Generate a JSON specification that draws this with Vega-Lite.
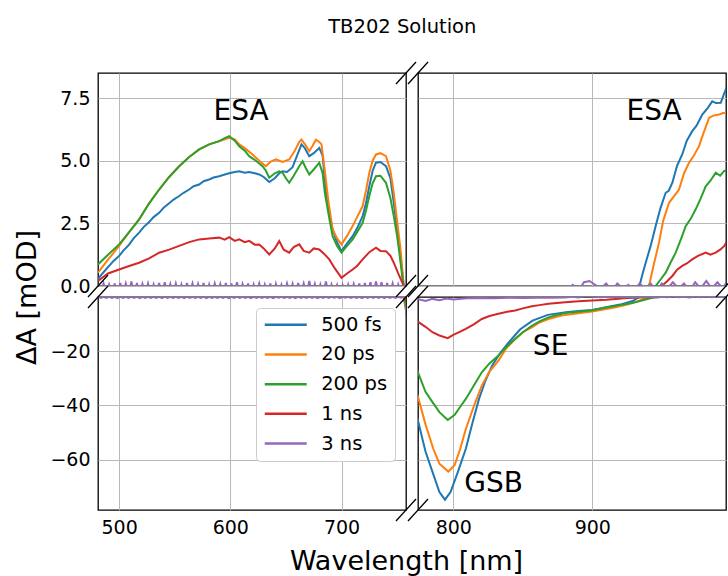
{
"$schema": "https://vega.github.io/schema/vega-lite/v6.json",
"padding": {"left": 13, "top": 17, "right": 1, "bottom": 2},
"title": {"text": "TB202 Solution", "font": "DejaVu Sans", "fontSize": 19.5, "fontWeight": "normal", "color": "black", "offset": 23, "anchor": "middle", "dx": 27},
"datasets": {"d": [
{"s":"500 fs","w":481,"v":0.27},{"s":"500 fs","w":485,"v":0.5},{"s":"500 fs","w":490,"v":0.75},{"s":"500 fs","w":495,"v":1.0},{"s":"500 fs","w":500,"v":1.2},{"s":"500 fs","w":504,"v":1.42},{"s":"500 fs","w":509,"v":1.65},{"s":"500 fs","w":513,"v":1.9},{"s":"500 fs","w":518,"v":2.13},{"s":"500 fs","w":522,"v":2.35},{"s":"500 fs","w":527,"v":2.55},{"s":"500 fs","w":531,"v":2.75},{"s":"500 fs","w":536,"v":2.92},{"s":"500 fs","w":540,"v":3.12},{"s":"500 fs","w":545,"v":3.3},{"s":"500 fs","w":549,"v":3.45},{"s":"500 fs","w":554,"v":3.59},{"s":"500 fs","w":558,"v":3.72},{"s":"500 fs","w":563,"v":3.85},{"s":"500 fs","w":567,"v":3.98},{"s":"500 fs","w":572,"v":4.05},{"s":"500 fs","w":576,"v":4.18},{"s":"500 fs","w":581,"v":4.25},{"s":"500 fs","w":585,"v":4.33},{"s":"500 fs","w":590,"v":4.38},{"s":"500 fs","w":595,"v":4.45},{"s":"500 fs","w":599,"v":4.5},{"s":"500 fs","w":604,"v":4.55},{"s":"500 fs","w":608,"v":4.58},{"s":"500 fs","w":613,"v":4.52},{"s":"500 fs","w":617,"v":4.55},{"s":"500 fs","w":622,"v":4.5},{"s":"500 fs","w":626,"v":4.45},{"s":"500 fs","w":630,"v":4.35},{"s":"500 fs","w":635,"v":4.15},{"s":"500 fs","w":640,"v":4.3},{"s":"500 fs","w":644,"v":4.5},{"s":"500 fs","w":647,"v":4.58},{"s":"500 fs","w":651,"v":4.55},{"s":"500 fs","w":656,"v":4.74},{"s":"500 fs","w":660,"v":5.2},{"s":"500 fs","w":664,"v":5.65},{"s":"500 fs","w":667,"v":5.5},{"s":"500 fs","w":671,"v":5.18},{"s":"500 fs","w":675,"v":5.3},{"s":"500 fs","w":680,"v":5.51},{"s":"500 fs","w":683,"v":5.2},{"s":"500 fs","w":686,"v":3.72},{"s":"500 fs","w":689,"v":2.9},{"s":"500 fs","w":692,"v":2.26},{"s":"500 fs","w":696,"v":1.75},{"s":"500 fs","w":700,"v":1.39},{"s":"500 fs","w":705,"v":1.7},{"s":"500 fs","w":710,"v":1.99},{"s":"500 fs","w":714,"v":2.3},{"s":"500 fs","w":719,"v":2.79},{"s":"500 fs","w":722,"v":3.3},{"s":"500 fs","w":725,"v":3.98},{"s":"500 fs","w":728,"v":4.6},{"s":"500 fs","w":731,"v":4.92},{"s":"500 fs","w":735,"v":4.95},{"s":"500 fs","w":740,"v":4.78},{"s":"500 fs","w":744,"v":4.3},{"s":"500 fs","w":747,"v":3.32},{"s":"500 fs","w":750,"v":2.3},{"s":"500 fs","w":753,"v":1.2},{"s":"500 fs","w":756,"v":0},{"s":"500 fs","w":758,"v":-5},{"s":"500 fs","w":762,"v":-15},{"s":"500 fs","w":766,"v":-26},{"s":"500 fs","w":770,"v":-36},{"s":"500 fs","w":775,"v":-46.5},{"s":"500 fs","w":780,"v":-57},{"s":"500 fs","w":786,"v":-66},{"s":"500 fs","w":790,"v":-72},{"s":"500 fs","w":794,"v":-74.8},{"s":"500 fs","w":798,"v":-72},{"s":"500 fs","w":803,"v":-65},{"s":"500 fs","w":809,"v":-56},{"s":"500 fs","w":814,"v":-46},{"s":"500 fs","w":818.5,"v":-37.6},{"s":"500 fs","w":823,"v":-31},{"s":"500 fs","w":828,"v":-25.3},{"s":"500 fs","w":834,"v":-20.5},{"s":"500 fs","w":840,"v":-16.7},{"s":"500 fs","w":848,"v":-12},{"s":"500 fs","w":857,"v":-8.7},{"s":"500 fs","w":868,"v":-6.6},{"s":"500 fs","w":881,"v":-5.6},{"s":"500 fs","w":890,"v":-5.2},{"s":"500 fs","w":900,"v":-4.8},{"s":"500 fs","w":910,"v":-3.8},{"s":"500 fs","w":920,"v":-2.8},{"s":"500 fs","w":929,"v":-1.5},{"s":"500 fs","w":933,"v":-0.2},{"s":"500 fs","w":936,"v":0.45},{"s":"500 fs","w":938,"v":0.85},{"s":"500 fs","w":942,"v":1.6},{"s":"500 fs","w":945.6,"v":2.39},{"s":"500 fs","w":949,"v":3.1},{"s":"500 fs","w":952.8,"v":3.72},{"s":"500 fs","w":955,"v":3.8},{"s":"500 fs","w":957.6,"v":4.12},{"s":"500 fs","w":961,"v":4.8},{"s":"500 fs","w":964.7,"v":5.25},{"s":"500 fs","w":968,"v":5.8},{"s":"500 fs","w":971.9,"v":6.18},{"s":"500 fs","w":975,"v":6.4},{"s":"500 fs","w":979.1,"v":6.84},{"s":"500 fs","w":983,"v":7.1},{"s":"500 fs","w":986.3,"v":7.37},{"s":"500 fs","w":989,"v":7.3},{"s":"500 fs","w":992.4,"v":7.31},{"s":"500 fs","w":995,"v":7.7},{"s":"500 fs","w":997,"v":7.97},{"s":"500 fs","w":1000,"v":8.3},
{"s":"20 ps","w":481,"v":0.53},{"s":"20 ps","w":490,"v":1.05},{"s":"20 ps","w":500,"v":1.6},{"s":"20 ps","w":509,"v":2.15},{"s":"20 ps","w":518,"v":2.66},{"s":"20 ps","w":527,"v":3.3},{"s":"20 ps","w":536,"v":3.85},{"s":"20 ps","w":545,"v":4.35},{"s":"20 ps","w":554,"v":4.78},{"s":"20 ps","w":563,"v":5.15},{"s":"20 ps","w":572,"v":5.45},{"s":"20 ps","w":581,"v":5.65},{"s":"20 ps","w":590,"v":5.78},{"s":"20 ps","w":595,"v":5.85},{"s":"20 ps","w":599,"v":5.91},{"s":"20 ps","w":604,"v":5.85},{"s":"20 ps","w":608,"v":5.65},{"s":"20 ps","w":613,"v":5.5},{"s":"20 ps","w":620,"v":5.25},{"s":"20 ps","w":626,"v":5.0},{"s":"20 ps","w":632,"v":4.78},{"s":"20 ps","w":636,"v":4.95},{"s":"20 ps","w":641,"v":5.05},{"s":"20 ps","w":647,"v":4.95},{"s":"20 ps","w":653,"v":5.05},{"s":"20 ps","w":658,"v":5.4},{"s":"20 ps","w":662,"v":5.75},{"s":"20 ps","w":664,"v":5.84},{"s":"20 ps","w":668,"v":5.6},{"s":"20 ps","w":671,"v":5.38},{"s":"20 ps","w":674,"v":5.6},{"s":"20 ps","w":677,"v":5.84},{"s":"20 ps","w":680,"v":5.75},{"s":"20 ps","w":682,"v":5.65},{"s":"20 ps","w":685,"v":4.6},{"s":"20 ps","w":688,"v":3.45},{"s":"20 ps","w":692,"v":2.26},{"s":"20 ps","w":696,"v":1.9},{"s":"20 ps","w":700,"v":1.66},{"s":"20 ps","w":705,"v":2.0},{"s":"20 ps","w":710,"v":2.39},{"s":"20 ps","w":714,"v":2.75},{"s":"20 ps","w":719,"v":3.19},{"s":"20 ps","w":722,"v":3.8},{"s":"20 ps","w":725,"v":4.52},{"s":"20 ps","w":728,"v":5.0},{"s":"20 ps","w":731,"v":5.25},{"s":"20 ps","w":735,"v":5.3},{"s":"20 ps","w":740,"v":5.18},{"s":"20 ps","w":744,"v":4.6},{"s":"20 ps","w":747,"v":3.72},{"s":"20 ps","w":750,"v":2.6},{"s":"20 ps","w":753,"v":1.5},{"s":"20 ps","w":756,"v":0},{"s":"20 ps","w":758,"v":-4},{"s":"20 ps","w":762,"v":-12},{"s":"20 ps","w":766,"v":-20},{"s":"20 ps","w":770,"v":-29},{"s":"20 ps","w":775,"v":-37.6},{"s":"20 ps","w":780,"v":-47},{"s":"20 ps","w":785.6,"v":-56},{"s":"20 ps","w":790,"v":-61.5},{"s":"20 ps","w":796.4,"v":-64.4},{"s":"20 ps","w":801,"v":-62},{"s":"20 ps","w":805,"v":-56},{"s":"20 ps","w":809,"v":-48.7},{"s":"20 ps","w":815,"v":-40},{"s":"20 ps","w":820.5,"v":-32.7},{"s":"20 ps","w":826,"v":-27.5},{"s":"20 ps","w":832.5,"v":-23.5},{"s":"20 ps","w":838,"v":-19},{"s":"20 ps","w":844.5,"v":-15.5},{"s":"20 ps","w":850,"v":-13},{"s":"20 ps","w":856.5,"v":-11.2},{"s":"20 ps","w":862,"v":-9.4},{"s":"20 ps","w":868.5,"v":-8.1},{"s":"20 ps","w":875,"v":-7.2},{"s":"20 ps","w":880.5,"v":-6.6},{"s":"20 ps","w":890,"v":-6},{"s":"20 ps","w":900,"v":-5.4},{"s":"20 ps","w":908,"v":-4.6},{"s":"20 ps","w":916.8,"v":-3.8},{"s":"20 ps","w":925,"v":-2.8},{"s":"20 ps","w":932,"v":-1.7},{"s":"20 ps","w":937,"v":-0.7},{"s":"20 ps","w":940.8,"v":0},{"s":"20 ps","w":944,"v":0.8},{"s":"20 ps","w":948,"v":1.73},{"s":"20 ps","w":951,"v":2.6},{"s":"20 ps","w":955.2,"v":3.32},{"s":"20 ps","w":959,"v":3.6},{"s":"20 ps","w":962.4,"v":3.85},{"s":"20 ps","w":966,"v":4.5},{"s":"20 ps","w":969.6,"v":4.92},{"s":"20 ps","w":973,"v":5.2},{"s":"20 ps","w":976.8,"v":5.58},{"s":"20 ps","w":980,"v":6.1},{"s":"20 ps","w":984,"v":6.71},{"s":"20 ps","w":987,"v":6.8},{"s":"20 ps","w":991.2,"v":6.84},{"s":"20 ps","w":994,"v":6.9},{"s":"20 ps","w":997,"v":6.91},{"s":"20 ps","w":1000,"v":6.95},
{"s":"200 ps","w":481,"v":0.86},{"s":"200 ps","w":490,"v":1.25},{"s":"200 ps","w":500,"v":1.66},{"s":"200 ps","w":509,"v":2.15},{"s":"200 ps","w":518,"v":2.66},{"s":"200 ps","w":527,"v":3.3},{"s":"200 ps","w":536,"v":3.85},{"s":"200 ps","w":545,"v":4.35},{"s":"200 ps","w":554,"v":4.78},{"s":"200 ps","w":563,"v":5.15},{"s":"200 ps","w":572,"v":5.45},{"s":"200 ps","w":581,"v":5.65},{"s":"200 ps","w":590,"v":5.78},{"s":"200 ps","w":595,"v":5.9},{"s":"200 ps","w":599,"v":5.98},{"s":"200 ps","w":604,"v":5.8},{"s":"200 ps","w":608,"v":5.58},{"s":"200 ps","w":613,"v":5.4},{"s":"200 ps","w":617,"v":5.18},{"s":"200 ps","w":623,"v":5.0},{"s":"200 ps","w":629,"v":4.78},{"s":"200 ps","w":632,"v":4.6},{"s":"200 ps","w":635,"v":4.32},{"s":"200 ps","w":640,"v":4.5},{"s":"200 ps","w":644,"v":4.58},{"s":"200 ps","w":647,"v":4.52},{"s":"200 ps","w":650,"v":4.3},{"s":"200 ps","w":653,"v":4.12},{"s":"200 ps","w":657,"v":4.4},{"s":"200 ps","w":662,"v":4.78},{"s":"200 ps","w":665,"v":4.98},{"s":"200 ps","w":668,"v":4.7},{"s":"200 ps","w":671,"v":4.45},{"s":"200 ps","w":675,"v":4.65},{"s":"200 ps","w":680,"v":4.92},{"s":"200 ps","w":683,"v":4.5},{"s":"200 ps","w":685,"v":3.72},{"s":"200 ps","w":689,"v":2.7},{"s":"200 ps","w":692,"v":1.99},{"s":"200 ps","w":696,"v":1.6},{"s":"200 ps","w":700,"v":1.33},{"s":"200 ps","w":705,"v":1.6},{"s":"200 ps","w":710,"v":1.86},{"s":"200 ps","w":714,"v":2.15},{"s":"200 ps","w":719,"v":2.52},{"s":"200 ps","w":722,"v":3.0},{"s":"200 ps","w":725,"v":3.59},{"s":"200 ps","w":728,"v":4.1},{"s":"200 ps","w":731,"v":4.38},{"s":"200 ps","w":735,"v":4.4},{"s":"200 ps","w":740,"v":4.12},{"s":"200 ps","w":744,"v":3.5},{"s":"200 ps","w":747,"v":2.79},{"s":"200 ps","w":750,"v":2.0},{"s":"200 ps","w":752,"v":1.33},{"s":"200 ps","w":754,"v":0.6},{"s":"200 ps","w":756,"v":-0.1},{"s":"200 ps","w":758,"v":-3},{"s":"200 ps","w":762,"v":-9},{"s":"200 ps","w":766,"v":-15},{"s":"200 ps","w":770,"v":-21},{"s":"200 ps","w":775,"v":-28.4},{"s":"200 ps","w":780,"v":-35},{"s":"200 ps","w":785,"v":-38.8},{"s":"200 ps","w":790,"v":-42.5},{"s":"200 ps","w":796,"v":-45.4},{"s":"200 ps","w":801,"v":-43.5},{"s":"200 ps","w":805,"v":-40.5},{"s":"200 ps","w":809,"v":-37.6},{"s":"200 ps","w":815,"v":-32.5},{"s":"200 ps","w":820.5,"v":-27.8},{"s":"200 ps","w":826,"v":-24.5},{"s":"200 ps","w":832.5,"v":-21.6},{"s":"200 ps","w":838,"v":-18.5},{"s":"200 ps","w":844.5,"v":-15.5},{"s":"200 ps","w":850,"v":-13},{"s":"200 ps","w":856.5,"v":-10.6},{"s":"200 ps","w":862,"v":-9},{"s":"200 ps","w":868.5,"v":-7.5},{"s":"200 ps","w":875,"v":-6.6},{"s":"200 ps","w":880.5,"v":-5.9},{"s":"200 ps","w":890,"v":-5.4},{"s":"200 ps","w":900,"v":-4.9},{"s":"200 ps","w":910,"v":-3.9},{"s":"200 ps","w":920,"v":-3.0},{"s":"200 ps","w":928.6,"v":-2.2},{"s":"200 ps","w":935,"v":-1.4},{"s":"200 ps","w":941,"v":-0.6},{"s":"200 ps","w":945.6,"v":0},{"s":"200 ps","w":949,"v":0.25},{"s":"200 ps","w":952.8,"v":0.53},{"s":"200 ps","w":956,"v":0.9},{"s":"200 ps","w":960,"v":1.33},{"s":"200 ps","w":964,"v":1.9},{"s":"200 ps","w":967.2,"v":2.39},{"s":"200 ps","w":971,"v":2.7},{"s":"200 ps","w":974.4,"v":3.06},{"s":"200 ps","w":978,"v":3.5},{"s":"200 ps","w":981.6,"v":3.98},{"s":"200 ps","w":985,"v":4.2},{"s":"200 ps","w":988.8,"v":4.52},{"s":"200 ps","w":992,"v":4.4},{"s":"200 ps","w":995,"v":4.6},{"s":"200 ps","w":997,"v":4.58},{"s":"200 ps","w":1000,"v":4.7},
{"s":"1 ns","w":481,"v":0.2},{"s":"1 ns","w":490,"v":0.5},{"s":"1 ns","w":500,"v":0.66},{"s":"1 ns","w":509,"v":0.8},{"s":"1 ns","w":518,"v":0.93},{"s":"1 ns","w":527,"v":1.1},{"s":"1 ns","w":536,"v":1.33},{"s":"1 ns","w":545,"v":1.45},{"s":"1 ns","w":554,"v":1.6},{"s":"1 ns","w":563,"v":1.75},{"s":"1 ns","w":572,"v":1.86},{"s":"1 ns","w":581,"v":1.9},{"s":"1 ns","w":590,"v":1.93},{"s":"1 ns","w":595,"v":1.85},{"s":"1 ns","w":599,"v":1.95},{"s":"1 ns","w":604,"v":1.8},{"s":"1 ns","w":608,"v":1.86},{"s":"1 ns","w":613,"v":1.75},{"s":"1 ns","w":617,"v":1.8},{"s":"1 ns","w":622,"v":1.65},{"s":"1 ns","w":626,"v":1.66},{"s":"1 ns","w":630,"v":1.5},{"s":"1 ns","w":635,"v":1.26},{"s":"1 ns","w":640,"v":1.5},{"s":"1 ns","w":644,"v":1.79},{"s":"1 ns","w":648,"v":1.45},{"s":"1 ns","w":653,"v":1.33},{"s":"1 ns","w":657,"v":1.55},{"s":"1 ns","w":662,"v":1.66},{"s":"1 ns","w":666,"v":1.4},{"s":"1 ns","w":671,"v":1.33},{"s":"1 ns","w":675,"v":1.5},{"s":"1 ns","w":680,"v":1.46},{"s":"1 ns","w":684,"v":1.3},{"s":"1 ns","w":689,"v":1.06},{"s":"1 ns","w":694,"v":0.7},{"s":"1 ns","w":700,"v":0.33},{"s":"1 ns","w":705,"v":0.5},{"s":"1 ns","w":710,"v":0.66},{"s":"1 ns","w":714,"v":0.8},{"s":"1 ns","w":719,"v":1.06},{"s":"1 ns","w":725,"v":1.35},{"s":"1 ns","w":731,"v":1.53},{"s":"1 ns","w":735,"v":1.4},{"s":"1 ns","w":740,"v":1.39},{"s":"1 ns","w":744,"v":1.2},{"s":"1 ns","w":747,"v":0.93},{"s":"1 ns","w":751,"v":0.5},{"s":"1 ns","w":756,"v":0},{"s":"1 ns","w":758,"v":-1.5},{"s":"1 ns","w":762,"v":-4},{"s":"1 ns","w":768,"v":-7},{"s":"1 ns","w":775,"v":-9.3},{"s":"1 ns","w":780,"v":-11},{"s":"1 ns","w":785,"v":-13},{"s":"1 ns","w":790,"v":-14.2},{"s":"1 ns","w":796,"v":-15.2},{"s":"1 ns","w":800,"v":-14},{"s":"1 ns","w":805,"v":-12.8},{"s":"1 ns","w":809,"v":-11.8},{"s":"1 ns","w":815,"v":-10},{"s":"1 ns","w":820.5,"v":-8.1},{"s":"1 ns","w":826,"v":-7},{"s":"1 ns","w":832.5,"v":-6.2},{"s":"1 ns","w":838,"v":-5.5},{"s":"1 ns","w":844.5,"v":-5},{"s":"1 ns","w":850,"v":-4.2},{"s":"1 ns","w":856.5,"v":-3.4},{"s":"1 ns","w":862,"v":-3},{"s":"1 ns","w":868.5,"v":-2.5},{"s":"1 ns","w":880.5,"v":-1.9},{"s":"1 ns","w":890,"v":-1.6},{"s":"1 ns","w":900,"v":-1.3},{"s":"1 ns","w":910,"v":-1.0},{"s":"1 ns","w":916.8,"v":-0.7},{"s":"1 ns","w":925,"v":-0.4},{"s":"1 ns","w":935,"v":-0.2},{"s":"1 ns","w":945,"v":-0.1},{"s":"1 ns","w":950,"v":0},{"s":"1 ns","w":954,"v":0.2},{"s":"1 ns","w":957.6,"v":0.4},{"s":"1 ns","w":961,"v":0.65},{"s":"1 ns","w":964.7,"v":0.8},{"s":"1 ns","w":968,"v":0.9},{"s":"1 ns","w":971.9,"v":1.06},{"s":"1 ns","w":976,"v":1.2},{"s":"1 ns","w":981.6,"v":1.33},{"s":"1 ns","w":985,"v":1.25},{"s":"1 ns","w":988.8,"v":1.33},{"s":"1 ns","w":992,"v":1.45},{"s":"1 ns","w":995,"v":1.6},{"s":"1 ns","w":997,"v":1.79},{"s":"1 ns","w":1000,"v":1.85},
{"s":"3 ns","w":481,"v":0.08},{"s":"3 ns","w":483.5,"v":-0.3},{"s":"3 ns","w":486,"v":0.1},{"s":"3 ns","w":488.5,"v":-0.35},{"s":"3 ns","w":491,"v":0.06},{"s":"3 ns","w":493.5,"v":-0.3},{"s":"3 ns","w":496,"v":0.1},{"s":"3 ns","w":498.5,"v":-0.4},{"s":"3 ns","w":501,"v":0.12},{"s":"3 ns","w":503.5,"v":-0.3},{"s":"3 ns","w":506,"v":0.1},{"s":"3 ns","w":508.5,"v":-0.35},{"s":"3 ns","w":511,"v":0.18},{"s":"3 ns","w":513.5,"v":-0.3},{"s":"3 ns","w":516,"v":0.12},{"s":"3 ns","w":518.5,"v":-0.4},{"s":"3 ns","w":521,"v":0.08},{"s":"3 ns","w":523.5,"v":-0.3},{"s":"3 ns","w":526,"v":0.1},{"s":"3 ns","w":528.5,"v":-0.35},{"s":"3 ns","w":531,"v":0.06},{"s":"3 ns","w":533.5,"v":-0.3},{"s":"3 ns","w":536,"v":0.12},{"s":"3 ns","w":538.5,"v":-0.4},{"s":"3 ns","w":541,"v":0.15},{"s":"3 ns","w":543.5,"v":-0.3},{"s":"3 ns","w":546,"v":0.08},{"s":"3 ns","w":548.5,"v":-0.35},{"s":"3 ns","w":551,"v":0.1},{"s":"3 ns","w":553.5,"v":-0.3},{"s":"3 ns","w":556,"v":0.06},{"s":"3 ns","w":558.5,"v":-0.4},{"s":"3 ns","w":561,"v":0.12},{"s":"3 ns","w":563.5,"v":-0.3},{"s":"3 ns","w":566,"v":0.1},{"s":"3 ns","w":568.5,"v":-0.35},{"s":"3 ns","w":571,"v":0.08},{"s":"3 ns","w":573.5,"v":-0.3},{"s":"3 ns","w":576,"v":0.12},{"s":"3 ns","w":578.5,"v":-0.4},{"s":"3 ns","w":581,"v":0.06},{"s":"3 ns","w":583.5,"v":-0.3},{"s":"3 ns","w":586,"v":0.1},{"s":"3 ns","w":588.5,"v":-0.35},{"s":"3 ns","w":591,"v":0.08},{"s":"3 ns","w":593.5,"v":-0.3},{"s":"3 ns","w":596,"v":0.12},{"s":"3 ns","w":598.5,"v":-0.4},{"s":"3 ns","w":601,"v":0.1},{"s":"3 ns","w":603.5,"v":-0.3},{"s":"3 ns","w":606,"v":0.15},{"s":"3 ns","w":608.5,"v":-0.35},{"s":"3 ns","w":611,"v":0.08},{"s":"3 ns","w":613.5,"v":-0.3},{"s":"3 ns","w":616,"v":0.1},{"s":"3 ns","w":618.5,"v":-0.4},{"s":"3 ns","w":621,"v":0.06},{"s":"3 ns","w":623.5,"v":-0.3},{"s":"3 ns","w":626,"v":0.1},{"s":"3 ns","w":628.5,"v":-0.35},{"s":"3 ns","w":631,"v":0.06},{"s":"3 ns","w":633.5,"v":-0.3},{"s":"3 ns","w":636,"v":0.1},{"s":"3 ns","w":638.5,"v":-0.4},{"s":"3 ns","w":641,"v":0.08},{"s":"3 ns","w":643.5,"v":-0.3},{"s":"3 ns","w":646,"v":0.05},{"s":"3 ns","w":648.5,"v":-0.35},{"s":"3 ns","w":651,"v":0.1},{"s":"3 ns","w":653.5,"v":-0.3},{"s":"3 ns","w":656,"v":0.08},{"s":"3 ns","w":658.5,"v":-0.4},{"s":"3 ns","w":661,"v":0.12},{"s":"3 ns","w":663.5,"v":-0.3},{"s":"3 ns","w":666,"v":0.1},{"s":"3 ns","w":668.5,"v":-0.35},{"s":"3 ns","w":671,"v":0.2},{"s":"3 ns","w":673.5,"v":-0.3},{"s":"3 ns","w":676,"v":0.08},{"s":"3 ns","w":678.5,"v":-0.4},{"s":"3 ns","w":681,"v":0.06},{"s":"3 ns","w":683.5,"v":-0.3},{"s":"3 ns","w":686,"v":0.18},{"s":"3 ns","w":688.5,"v":-0.35},{"s":"3 ns","w":691,"v":0.06},{"s":"3 ns","w":693.5,"v":-0.3},{"s":"3 ns","w":696,"v":0.04},{"s":"3 ns","w":698.5,"v":-0.4},{"s":"3 ns","w":701,"v":0.04},{"s":"3 ns","w":703.5,"v":-0.3},{"s":"3 ns","w":706,"v":0.06},{"s":"3 ns","w":708.5,"v":-0.35},{"s":"3 ns","w":711,"v":0.08},{"s":"3 ns","w":713.5,"v":-0.3},{"s":"3 ns","w":716,"v":0.1},{"s":"3 ns","w":718.5,"v":-0.4},{"s":"3 ns","w":721,"v":0.12},{"s":"3 ns","w":723.5,"v":-0.3},{"s":"3 ns","w":726,"v":0.15},{"s":"3 ns","w":728.5,"v":-0.35},{"s":"3 ns","w":731,"v":0.18},{"s":"3 ns","w":733.5,"v":-0.3},{"s":"3 ns","w":736,"v":0.15},{"s":"3 ns","w":738.5,"v":-0.4},{"s":"3 ns","w":741,"v":0.12},{"s":"3 ns","w":743.5,"v":-0.3},{"s":"3 ns","w":746,"v":0.1},{"s":"3 ns","w":748.5,"v":-0.35},{"s":"3 ns","w":751,"v":0.06},{"s":"3 ns","w":753.5,"v":-0.3},{"s":"3 ns","w":756,"v":0.04},{"s":"3 ns","w":758,"v":-0.5},{"s":"3 ns","w":762,"v":-0.8},{"s":"3 ns","w":768,"v":-1.0},{"s":"3 ns","w":775,"v":-0.8},{"s":"3 ns","w":780,"v":-1.5},{"s":"3 ns","w":785,"v":-0.7},{"s":"3 ns","w":790,"v":-1.2},{"s":"3 ns","w":795,"v":-0.6},{"s":"3 ns","w":800,"v":-0.9},{"s":"3 ns","w":810,"v":-0.5},{"s":"3 ns","w":820,"v":-0.4},{"s":"3 ns","w":830,"v":-0.5},{"s":"3 ns","w":840,"v":-0.3},{"s":"3 ns","w":850,"v":-0.4},{"s":"3 ns","w":860,"v":-0.3},{"s":"3 ns","w":870,"v":-0.3},{"s":"3 ns","w":880,"v":-0.2},{"s":"3 ns","w":886,"v":0.05},{"s":"3 ns","w":890,"v":-0.2},{"s":"3 ns","w":894,"v":0.15},{"s":"3 ns","w":898,"v":0.2},{"s":"3 ns","w":902,"v":0.05},{"s":"3 ns","w":906,"v":-0.1},{"s":"3 ns","w":910,"v":0.1},{"s":"3 ns","w":914,"v":-0.2},{"s":"3 ns","w":918,"v":0.1},{"s":"3 ns","w":922,"v":-0.1},{"s":"3 ns","w":926,"v":0.05},{"s":"3 ns","w":930,"v":-0.2},{"s":"3 ns","w":934,"v":0.1},{"s":"3 ns","w":938,"v":-0.1},{"s":"3 ns","w":942,"v":0.1},{"s":"3 ns","w":946,"v":-0.2},{"s":"3 ns","w":950,"v":0.1},{"s":"3 ns","w":954,"v":-0.1},{"s":"3 ns","w":958,"v":0.15},{"s":"3 ns","w":962,"v":-0.1},{"s":"3 ns","w":966,"v":0.1},{"s":"3 ns","w":970,"v":-0.2},{"s":"3 ns","w":974,"v":0.15},{"s":"3 ns","w":978,"v":-0.1},{"s":"3 ns","w":982,"v":0.2},{"s":"3 ns","w":986,"v":-0.1},{"s":"3 ns","w":990,"v":0.15},{"s":"3 ns","w":994,"v":-0.1},{"s":"3 ns","w":997,"v":0.2},{"s":"3 ns","w":1000,"v":0.1}
]},
"columns": 2,
"spacing": {"row": 11, "column": 12},
"bounds": "flush",
"resolve": {"scale": {"x": "independent", "y": "independent", "color": "independent"}, "legend": {"color": "independent"}},
"concat": [
{"width": 308, "height": 213, "layer": [
 {"data": {"name": "d"}, "mark": {"type": "line", "clip": true, "strokeWidth": 2},
  "encoding": {
   "x": {"field": "w", "type": "quantitative", "scale": {"domain": [481, 758], "nice": false, "zero": false}, "axis": {"values": [500, 600, 700], "labels": false, "title": null}},
   "y": {"field": "v", "type": "quantitative", "scale": {"domain": [0, 8.5], "nice": false, "zero": false}, "axis": {"values": [0, 2.5, 5, 7.5], "format": ".1f", "title": null}},
   "color": {"field": "s", "type": "nominal", "scale": {"domain": ["500 fs", "20 ps", "200 ps", "1 ns", "3 ns"], "range": ["#1f77b4", "#ff7f0e", "#2ca02c", "#d62728", "#9467bd"]}, "legend": null}}},
 {"data": {"values": [{}]}, "mark": {"type": "text", "font": "DejaVu Sans", "fontSize": 28, "color": "black"}, "encoding": {"x": {"datum": 609.7}, "y": {"datum": 6.96}, "text": {"value": "ESA"}}},
 {"data": {"values": [{}]}, "mark": {"type": "rule", "color": "black", "strokeWidth": 1.3}, "encoding": {"x": {"datum": 749}, "x2": {"datum": 767}, "y": {"datum": 8.06}, "y2": {"datum": 8.94}}},
 {"data": {"values": [{}]}, "mark": {"type": "rule", "color": "black", "strokeWidth": 1.3}, "encoding": {"x": {"datum": 749}, "x2": {"datum": 767}, "y": {"datum": -0.44}, "y2": {"datum": 0.44}}},
 {"data": {"values": [{}]}, "mark": {"type": "rule", "color": "black", "strokeWidth": 1.3}, "encoding": {"x": {"datum": 472}, "x2": {"datum": 490}, "y": {"datum": -0.44}, "y2": {"datum": 0.44}}}
]},
{"width": 308, "height": 213, "layer": [
 {"data": {"name": "d"}, "mark": {"type": "line", "clip": true, "strokeWidth": 2},
  "encoding": {
   "x": {"field": "w", "type": "quantitative", "scale": {"domain": [774.6, 996.2], "nice": false, "zero": false}, "axis": {"values": [800, 900], "labels": false, "title": null}},
   "y": {"field": "v", "type": "quantitative", "scale": {"domain": [0, 8.5], "nice": false, "zero": false}, "axis": {"values": [0, 2.5, 5, 7.5], "labels": false, "title": null}},
   "color": {"field": "s", "type": "nominal", "scale": {"domain": ["500 fs", "20 ps", "200 ps", "1 ns", "3 ns"], "range": ["#1f77b4", "#ff7f0e", "#2ca02c", "#d62728", "#9467bd"]}, "legend": null}}},
 {"data": {"values": [{}]}, "mark": {"type": "text", "font": "DejaVu Sans", "fontSize": 28, "color": "black"}, "encoding": {"x": {"datum": 944.4}, "y": {"datum": 6.96}, "text": {"value": "ESA"}}},
 {"data": {"values": [{}]}, "mark": {"type": "rule", "color": "black", "strokeWidth": 1.3}, "encoding": {"x": {"datum": 767.4}, "x2": {"datum": 781.8}, "y": {"datum": 8.06}, "y2": {"datum": 8.94}}},
 {"data": {"values": [{}]}, "mark": {"type": "rule", "color": "black", "strokeWidth": 1.3}, "encoding": {"x": {"datum": 767.4}, "x2": {"datum": 781.8}, "y": {"datum": -0.44}, "y2": {"datum": 0.44}}},
 {"data": {"values": [{}]}, "mark": {"type": "rule", "color": "black", "strokeWidth": 1.3}, "encoding": {"x": {"datum": 989}, "x2": {"datum": 1003.4}, "y": {"datum": -0.44}, "y2": {"datum": 0.44}}}
]},
{"width": 308, "height": 213, "layer": [
 {"data": {"name": "d"}, "mark": {"type": "line", "clip": true, "strokeWidth": 2},
  "encoding": {
   "x": {"field": "w", "type": "quantitative", "scale": {"domain": [481, 758], "nice": false, "zero": false}, "axis": {"values": [500, 600, 700], "labelPadding": 8, "title": "Wavelength [nm]", "titleAnchor": "end", "titleAlign": "center", "titlePadding": 11}},
   "y": {"field": "v", "type": "quantitative", "scale": {"domain": [-78.6, 0], "nice": false, "zero": false}, "axis": {"values": [-20, -40, -60], "title": "ΔA [mOD]", "titleAnchor": "end", "titleAlign": "center", "titlePadding": 8}},
   "color": {"field": "s", "type": "nominal", "scale": {"domain": ["500 fs", "20 ps", "200 ps", "1 ns", "3 ns"], "range": ["#1f77b4", "#ff7f0e", "#2ca02c", "#d62728", "#9467bd"]},
    "legend": {"orient": "top-right", "offset": 11, "title": null, "symbolType": "M-4.2,0H4.2", "symbolSize": 100, "symbolOffset": 13, "symbolStrokeWidth": 2.5, "labelFont": "DejaVu Sans", "labelFontSize": 19.5, "labelColor": "black", "labelOffset": 25.7, "rowPadding": 8.7, "padding": 7, "fillColor": "white", "strokeColor": "#cccccc", "cornerRadius": 4}}}},
 {"data": {"values": [{}]}, "mark": {"type": "rule", "color": "black", "strokeWidth": 1.3}, "encoding": {"x": {"datum": 472}, "x2": {"datum": 490}, "y": {"datum": -4.05}, "y2": {"datum": 4.05}}},
 {"data": {"values": [{}]}, "mark": {"type": "rule", "color": "black", "strokeWidth": 1.3}, "encoding": {"x": {"datum": 749}, "x2": {"datum": 767}, "y": {"datum": -4.05}, "y2": {"datum": 4.05}}},
 {"data": {"values": [{}]}, "mark": {"type": "rule", "color": "black", "strokeWidth": 1.3}, "encoding": {"x": {"datum": 749}, "x2": {"datum": 767}, "y": {"datum": -82.65}, "y2": {"datum": -74.55}}}
]},
{"width": 308, "height": 213, "layer": [
 {"data": {"name": "d"}, "mark": {"type": "line", "clip": true, "strokeWidth": 2},
  "encoding": {
   "x": {"field": "w", "type": "quantitative", "scale": {"domain": [774.6, 996.2], "nice": false, "zero": false}, "axis": {"values": [800, 900], "labelPadding": 8, "title": null}},
   "y": {"field": "v", "type": "quantitative", "scale": {"domain": [-78.6, 0], "nice": false, "zero": false}, "axis": {"values": [-20, -40, -60], "labels": false, "title": null}},
   "color": {"field": "s", "type": "nominal", "scale": {"domain": ["500 fs", "20 ps", "200 ps", "1 ns", "3 ns"], "range": ["#1f77b4", "#ff7f0e", "#2ca02c", "#d62728", "#9467bd"]}, "legend": null}}},
 {"data": {"values": [{}]}, "mark": {"type": "text", "font": "DejaVu Sans", "fontSize": 28, "color": "black"}, "encoding": {"x": {"datum": 870}, "y": {"datum": -18.4}, "text": {"value": "SE"}}},
 {"data": {"values": [{}]}, "mark": {"type": "text", "font": "DejaVu Sans", "fontSize": 28, "color": "black"}, "encoding": {"x": {"datum": 829}, "y": {"datum": -69}, "text": {"value": "GSB"}}},
 {"data": {"values": [{}]}, "mark": {"type": "rule", "color": "black", "strokeWidth": 1.3}, "encoding": {"x": {"datum": 767.4}, "x2": {"datum": 781.8}, "y": {"datum": -4.05}, "y2": {"datum": 4.05}}},
 {"data": {"values": [{}]}, "mark": {"type": "rule", "color": "black", "strokeWidth": 1.3}, "encoding": {"x": {"datum": 989}, "x2": {"datum": 1003.4}, "y": {"datum": -4.05}, "y2": {"datum": 4.05}}},
 {"data": {"values": [{}]}, "mark": {"type": "rule", "color": "black", "strokeWidth": 1.3}, "encoding": {"x": {"datum": 767.4}, "x2": {"datum": 781.8}, "y": {"datum": -82.65}, "y2": {"datum": -74.55}}}
]}
],
"config": {
 "view": {"stroke": "black", "strokeWidth": 1.3},
 "axis": {"domain": false, "ticks": false, "grid": true, "gridColor": "#b8b8b8", "gridWidth": 1, "labelFont": "DejaVu Sans", "labelFontSize": 19, "labelColor": "black", "labelPadding": 8, "labelFlush": false, "labelOverlap": false, "labelBound": false, "titleFont": "DejaVu Sans", "titleFontSize": 27, "titleFontWeight": "normal", "titleColor": "black"}
}
}
